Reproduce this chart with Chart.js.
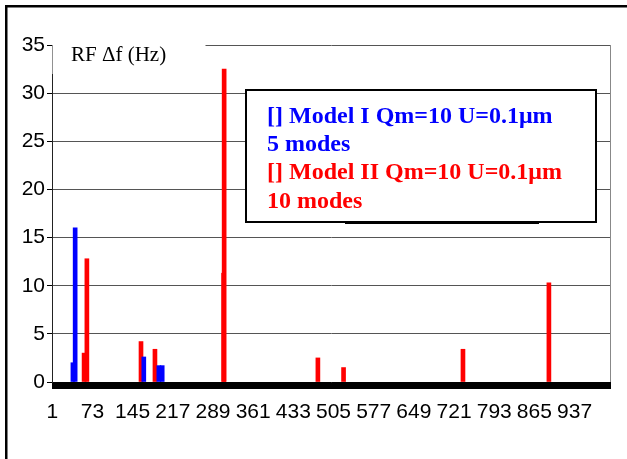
<!DOCTYPE html>
<html>
<head>
<meta charset="utf-8">
<script src="https://cdn.jsdelivr.net/npm/chart.js@4.4.0/dist/chart.umd.min.js"></script>
<style>
html, body { margin: 0; padding: 0; background: #fff; }
</style>
</head>
<body>
<canvas id="myChart" width="627" height="459"></canvas>
<script>
// categories 1..1000 on the x axis
const categories = [];
for (let i = 1; i <= 1000; i++) categories.push(String(i));

// x labels that are shown (every 72nd category)
const shownTicks = ['1', '73', '145', '217', '289', '361', '433', '505', '577', '649', '721', '793', '865', '937'];
const yTicks = [0, 5, 10, 15, 20, 25, 30, 35];

// Model I, 5 modes
const modelIPos = [38, 42, 165, 192, 198];
const modelIVal = [2, 16, 2.6, 1.7, 1.7];

// Model II, 10 modes
const modelIIPos = [58, 63, 160, 185, 308, 309, 477, 523, 737, 891];
const modelIIVal = [3, 12.8, 4.2, 3.4, 11.3, 32.5, 2.5, 1.5, 3.4, 10.3];

const legendLines = [
    ['[] Model I Qm=10 U=0.1\u03bcm', '#0000ff'],
    ['5 modes', '#0000ff'],
    ['[] Model II Qm=10 U=0.1\u03bcm', '#ff0000'],
    ['10 modes', '#ff0000']
];

function spread(pos, val) {
    const out = categories.map(() => null);
    pos.forEach((p, k) => { out[p - 1] = val[k]; });
    return out;
}

const tickFont = '"Liberation Sans Narrow", "Liberation Sans", Arial, sans-serif';

const frame = {
    id: 'frame',
    beforeDraw(chart) {
        const c = chart.ctx;
        c.save();
        c.fillStyle = '#fff';
        c.fillRect(0, 0, chart.width, chart.height);
        c.restore();
    },
    afterDraw(chart) {
        const c = chart.ctx;
        const a = chart.chartArea;
        c.save();
        // plot area right edge
        c.strokeStyle = '#888';
        c.lineWidth = 1;
        c.beginPath();
        c.moveTo(Math.round(a.right) + 0.5, a.top);
        c.lineTo(Math.round(a.right) + 0.5, a.bottom);
        c.stroke();

        // axis title with white background
        c.fillStyle = '#fff';
        c.fillRect(a.left + 0.5, 38, 153, 36);
        c.fillStyle = '#000';
        c.font = '21px "Liberation Serif", "Times New Roman", serif';
        c.textBaseline = 'middle';
        c.fillText('RF \u0394f (Hz)', 71, 55);

        // legend box
        c.fillStyle = '#fff';
        c.fillRect(246, 90, 350, 132);
        c.strokeStyle = '#000';
        c.lineWidth = 2;
        c.strokeRect(246, 90, 350, 132);
        c.fillStyle = '#000';
        c.fillRect(345, 222, 194, 2);
        c.font = 'bold 24px "Liberation Serif", "Times New Roman", serif';
        const ys = [117, 145, 173, 202];
        legendLines.forEach((l, k) => {
            c.fillStyle = l[1];
            c.fillText(l[0], 267, ys[k]);
        });

        // outer frame (top and left)
        c.fillStyle = '#000';
        c.fillRect(5, 5, chart.width - 5, 2.5);
        c.fillRect(5, 5, 2.5, chart.height - 5);
        c.restore();
    }
};

const ctx = document.getElementById('myChart').getContext('2d');
const myChart = new Chart(ctx, {
    type: 'bar',
    data: {
        labels: categories,
        datasets: [{
            label: legendLines[0][0],
            data: spread(modelIPos, modelIVal),
            backgroundColor: '#0000ff',
            barThickness: 4,
            grouped: false
        }, {
            label: legendLines[2][0],
            data: spread(modelIIPos, modelIIVal),
            backgroundColor: '#ff0000',
            barThickness: 4,
            grouped: false
        }]
    },
    options: {
        responsive: false,
        animation: false,
        layout: { padding: { left: 0, top: 45, right: 17, bottom: 0 } },
        plugins: {
            legend: { display: false },
            tooltip: { enabled: false }
        },
        scales: {
            x: {
                ticks: {
                    autoSkip: false,
                    maxRotation: 0,
                    minRotation: 0,
                    color: '#000',
                    padding: 11,
                    font: { family: tickFont, size: 21 },
                    callback: function (v) {
                        const l = this.getLabelForValue(v);
                        return shownTicks.includes(l) ? l : '';
                    }
                },
                grid: { drawOnChartArea: false, tickLength: 7, color: '#000', tickColor: '#000' },
                border: { color: '#000' },
                afterFit: s => { s.height = 77; }
            },
            y: {
                min: yTicks[0],
                max: yTicks[yTicks.length - 1],
                ticks: {
                    stepSize: 5,
                    color: '#000',
                    padding: 2,
                    font: { family: tickFont, size: 21 }
                },
                grid: { color: '#555', tickColor: '#000', tickLength: 5 },
                border: { color: '#222' },
                afterFit: s => { s.width = 52; }
            }
        }
    },
    plugins: [frame]
});
</script>
</body>
</html>
